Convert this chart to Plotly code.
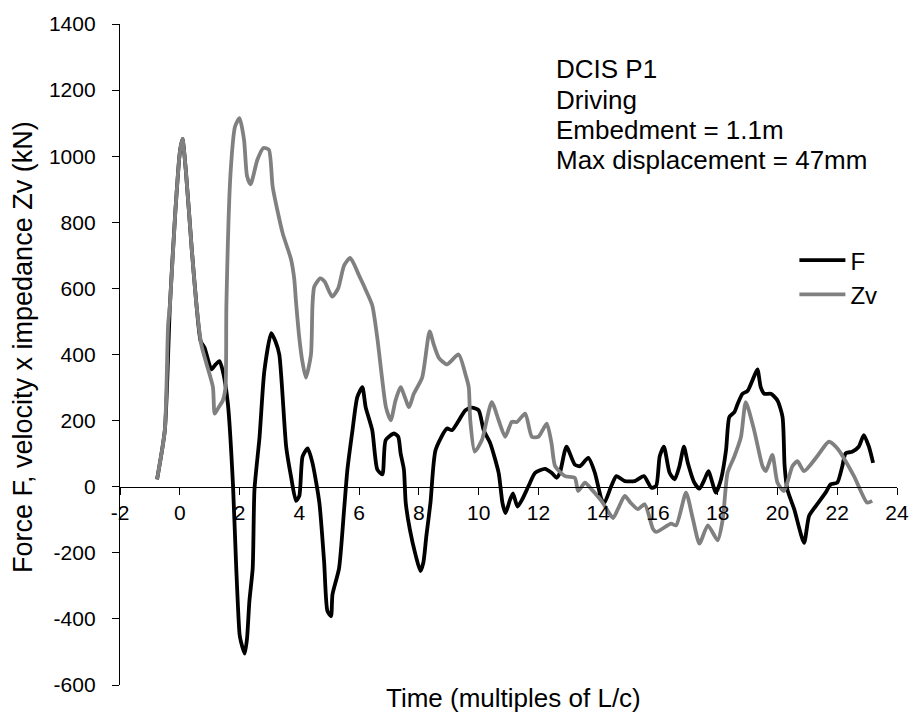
import plotly.graph_objects as go

# Time in multiples of L/c
t_F = [-0.76, -0.5, -0.33, -0.15, 0.0, 0.09, 0.2, 0.4, 0.56, 0.7, 0.83, 1.06, 1.2, 1.33, 1.44, 1.61, 1.78, 1.89,
       2.0, 2.05, 2.17, 2.25, 2.33, 2.44, 2.5, 2.67, 2.83, 3.06, 3.2, 3.33, 3.56, 3.72, 3.89, 4.0, 4.11, 4.28,
       4.44, 4.67, 4.83, 4.94, 5.06, 5.11, 5.33, 5.5, 5.61, 5.78, 5.94, 6.11, 6.22, 6.44, 6.61, 6.78, 6.89,
       7.17, 7.31, 7.39, 7.5, 7.56, 7.7, 7.9, 8.05, 8.15, 8.25, 8.39, 8.56, 8.94, 9.11, 9.56, 9.78, 10.0,
       10.17, 10.39, 10.67, 10.8, 10.9, 11.05, 11.15, 11.3, 11.45, 11.67, 11.89, 12.22, 12.44, 12.61, 12.72,
       12.94, 13.22, 13.39, 13.67, 13.89, 14.11, 14.2, 14.44, 14.61, 14.89, 15.22, 15.53, 15.78, 15.94, 16.06,
       16.2, 16.39, 16.56, 16.72, 16.87, 17.0, 17.22, 17.39, 17.56, 17.69, 17.94, 18.11, 18.28, 18.39, 18.56,
       18.67, 18.83, 19.0, 19.2, 19.33, 19.44, 19.56, 19.78, 20.0, 20.17, 20.24, 20.33, 20.56, 20.89, 21.06,
       21.33, 21.61, 21.78, 22.0, 22.17, 22.28, 22.5, 22.72, 22.89, 23.06, 23.2]
F = [22, 171, 549, 830, 1010, 1052, 960, 720, 549, 440, 420, 355, 370, 380, 350, 251, 7, -247,
     -446, -470, -505, -460, -346, -247, -8, 151, 350, 465, 440, 400, 121, 32, -43, -28, 92, 116,
     72, -48, -227, -376, -392, -326, -247, -68, 52, 171, 271, 301, 241, 171, 52, 37, 141,
     161, 151, 101, 52, -48, -130, -210, -255, -230, -150, -48, 111, 176, 171, 231, 239, 231,
     171, 131, 42, -50, -80, -40, -20, -60, -40, 2, 42, 54, 42, 27, 42,
     121, 67, 62, 87, 42, -38, -50, 2, 32, 17, 17, 32, -3, 2, 92,
     121, 42, 22, 62, 121, 72, 12, -6, 22, 47, -18, 22, 111, 211, 226,
     251, 281, 290, 330, 355, 301, 281, 281, 261, 211, 62, -8, -68, -170, -88,
     -53, -18, 7, 12, 62, 101, 106, 121, 156, 121, 72]

t_Zv = [-0.76, -0.5, -0.39, -0.33, -0.15, 0.0, 0.09, 0.2, 0.4, 0.56, 0.72, 0.9, 1.11, 1.17, 1.3, 1.44, 1.53,
        1.56, 1.7, 1.85, 2.0, 2.15, 2.25, 2.37, 2.6, 2.8, 2.98, 3.11, 3.44, 3.72, 3.83, 3.89, 4.0, 4.1, 4.22,
        4.39, 4.44, 4.5, 4.7, 4.85, 5.1, 5.3, 5.5, 5.7, 5.85, 6.0, 6.2, 6.44, 6.61, 6.78, 6.9, 7.06, 7.22,
        7.39, 7.67, 7.83, 8.11, 8.36, 8.5, 8.67, 8.94, 9.33, 9.56, 9.67, 9.72, 9.87, 10.11, 10.44, 10.67,
        10.89, 11.11, 11.28, 11.56, 11.78, 12.0, 12.28, 12.44, 12.56, 12.89, 13.22, 13.33, 13.56, 13.78,
        14.11, 14.3, 14.5, 14.7, 14.89, 15.1, 15.33, 15.56, 15.83, 15.94, 16.44, 16.61, 16.94, 17.17, 17.39,
        17.67, 18.0, 18.17, 18.33, 18.56, 18.78, 18.94, 19.22, 19.5, 19.61, 19.83, 20.0, 20.22, 20.5, 20.67,
        20.89, 21.33, 21.72, 22.0, 22.56, 23.0, 23.17]
Zv = [22, 171, 490, 549, 830, 1010, 1052, 960, 720, 549, 430, 370, 301, 221, 240, 261, 301,
      549, 950, 1090, 1115, 1050, 940, 915, 990, 1025, 1020, 907, 768, 689, 629, 559, 450, 380, 330,
      400, 549, 605, 630, 620, 575, 600, 670, 692, 670, 639, 600, 549, 450, 320, 240, 201, 261,
      301, 241, 281, 330, 470, 430, 390, 370, 400, 340, 301, 201, 106, 141, 256, 201,
      151, 196, 196, 221, 151, 151, 191, 131, 62, 32, 27, -13, 12, -8,
      -43, -70, -95, -60, -28, -50, -68, -53, -127, -137, -112, -117, -18, -98, -172,
      -117, -162, -98, 42, 92, 151, 256, 171, 62, 47, 96, 12, -13, 62, 77,
      47, 92, 136, 116, 32, -48, -43]

x_ticks = list(range(-2, 25, 2))
y_ticks = list(range(-600, 1401, 200))

annotation_lines = ["DCIS P1", "Driving", "Embedment = 1.1m", "Max displacement = 47mm"]
x_title = "Time (multiples of L/c)"
y_title = "Force F, velocity x impedance Zv (kN)"

FONT = "Liberation Sans, Arial, sans-serif"

# plot area in pixels
L, T, W, H = 120, 15, 780, 670


def px_x(p):
    return (p - L) / W


def px_y(p):
    return 1 - (p - T) / H


fig = go.Figure()
fig.add_trace(go.Scatter(x=t_F, y=F, mode="lines", name="F",
                         line=dict(color="#000000", width=3.8, shape="spline", smoothing=0.6)))
fig.add_trace(go.Scatter(x=t_Zv, y=Zv, mode="lines", name="Zv",
                         line=dict(color="#808080", width=3.8, shape="spline", smoothing=0.6)))

fig.update_layout(
    width=921, height=720,
    margin=dict(l=L, r=921 - L - W, t=T, b=720 - T - H),
    paper_bgcolor="white", plot_bgcolor="white",
    font=dict(family=FONT, size=21, color="#000000"),
    showlegend=True,
    legend=dict(x=px_x(797), y=px_y(232), xanchor="left", yanchor="top",
                bgcolor="rgba(0,0,0,0)", font=dict(size=24), tracegroupgap=0, itemwidth=46),
    xaxis=dict(range=[-2, 24], tickvals=x_ticks, ticktext=[str(v) for v in x_ticks],
               showgrid=False, zeroline=False, showline=True, linecolor="#000000", linewidth=1.3,
               ticks="outside", ticklen=7, tickwidth=1.3, tickcolor="#000000",
               anchor="free", position=600 / 2000, tickfont=dict(size=21)),
    yaxis=dict(range=[-600, 1400], tickvals=y_ticks, ticktext=[str(v) for v in y_ticks],
               showgrid=False, zeroline=False, showline=True, linecolor="#000000", linewidth=1.3,
               ticks="outside", ticklen=7, tickwidth=1.3, tickcolor="#000000",
               tickfont=dict(size=21), ticklabelstandoff=12),
)

# text block (one annotation per line to match the reference line spacing)
baselines = [70, 101, 131.5, 162]
for line, b in zip(annotation_lines, baselines):
    fig.add_annotation(xref="paper", yref="paper", x=px_x(556), y=px_y(b - 9.3),
                       xanchor="left", yanchor="middle", align="left", showarrow=False,
                       text=line, font=dict(size=26, family=FONT))

fig.add_annotation(xref="paper", yref="paper", x=px_x(515), y=px_y(698), xanchor="center",
                   yanchor="middle", showarrow=False, text=x_title, font=dict(size=26, family=FONT))
fig.add_annotation(xref="paper", yref="paper", x=px_x(22), y=px_y(342), xanchor="center",
                   yanchor="middle", showarrow=False, text=y_title, textangle=-90,
                   font=dict(size=27, family=FONT))

fig.write_html("out.html")
